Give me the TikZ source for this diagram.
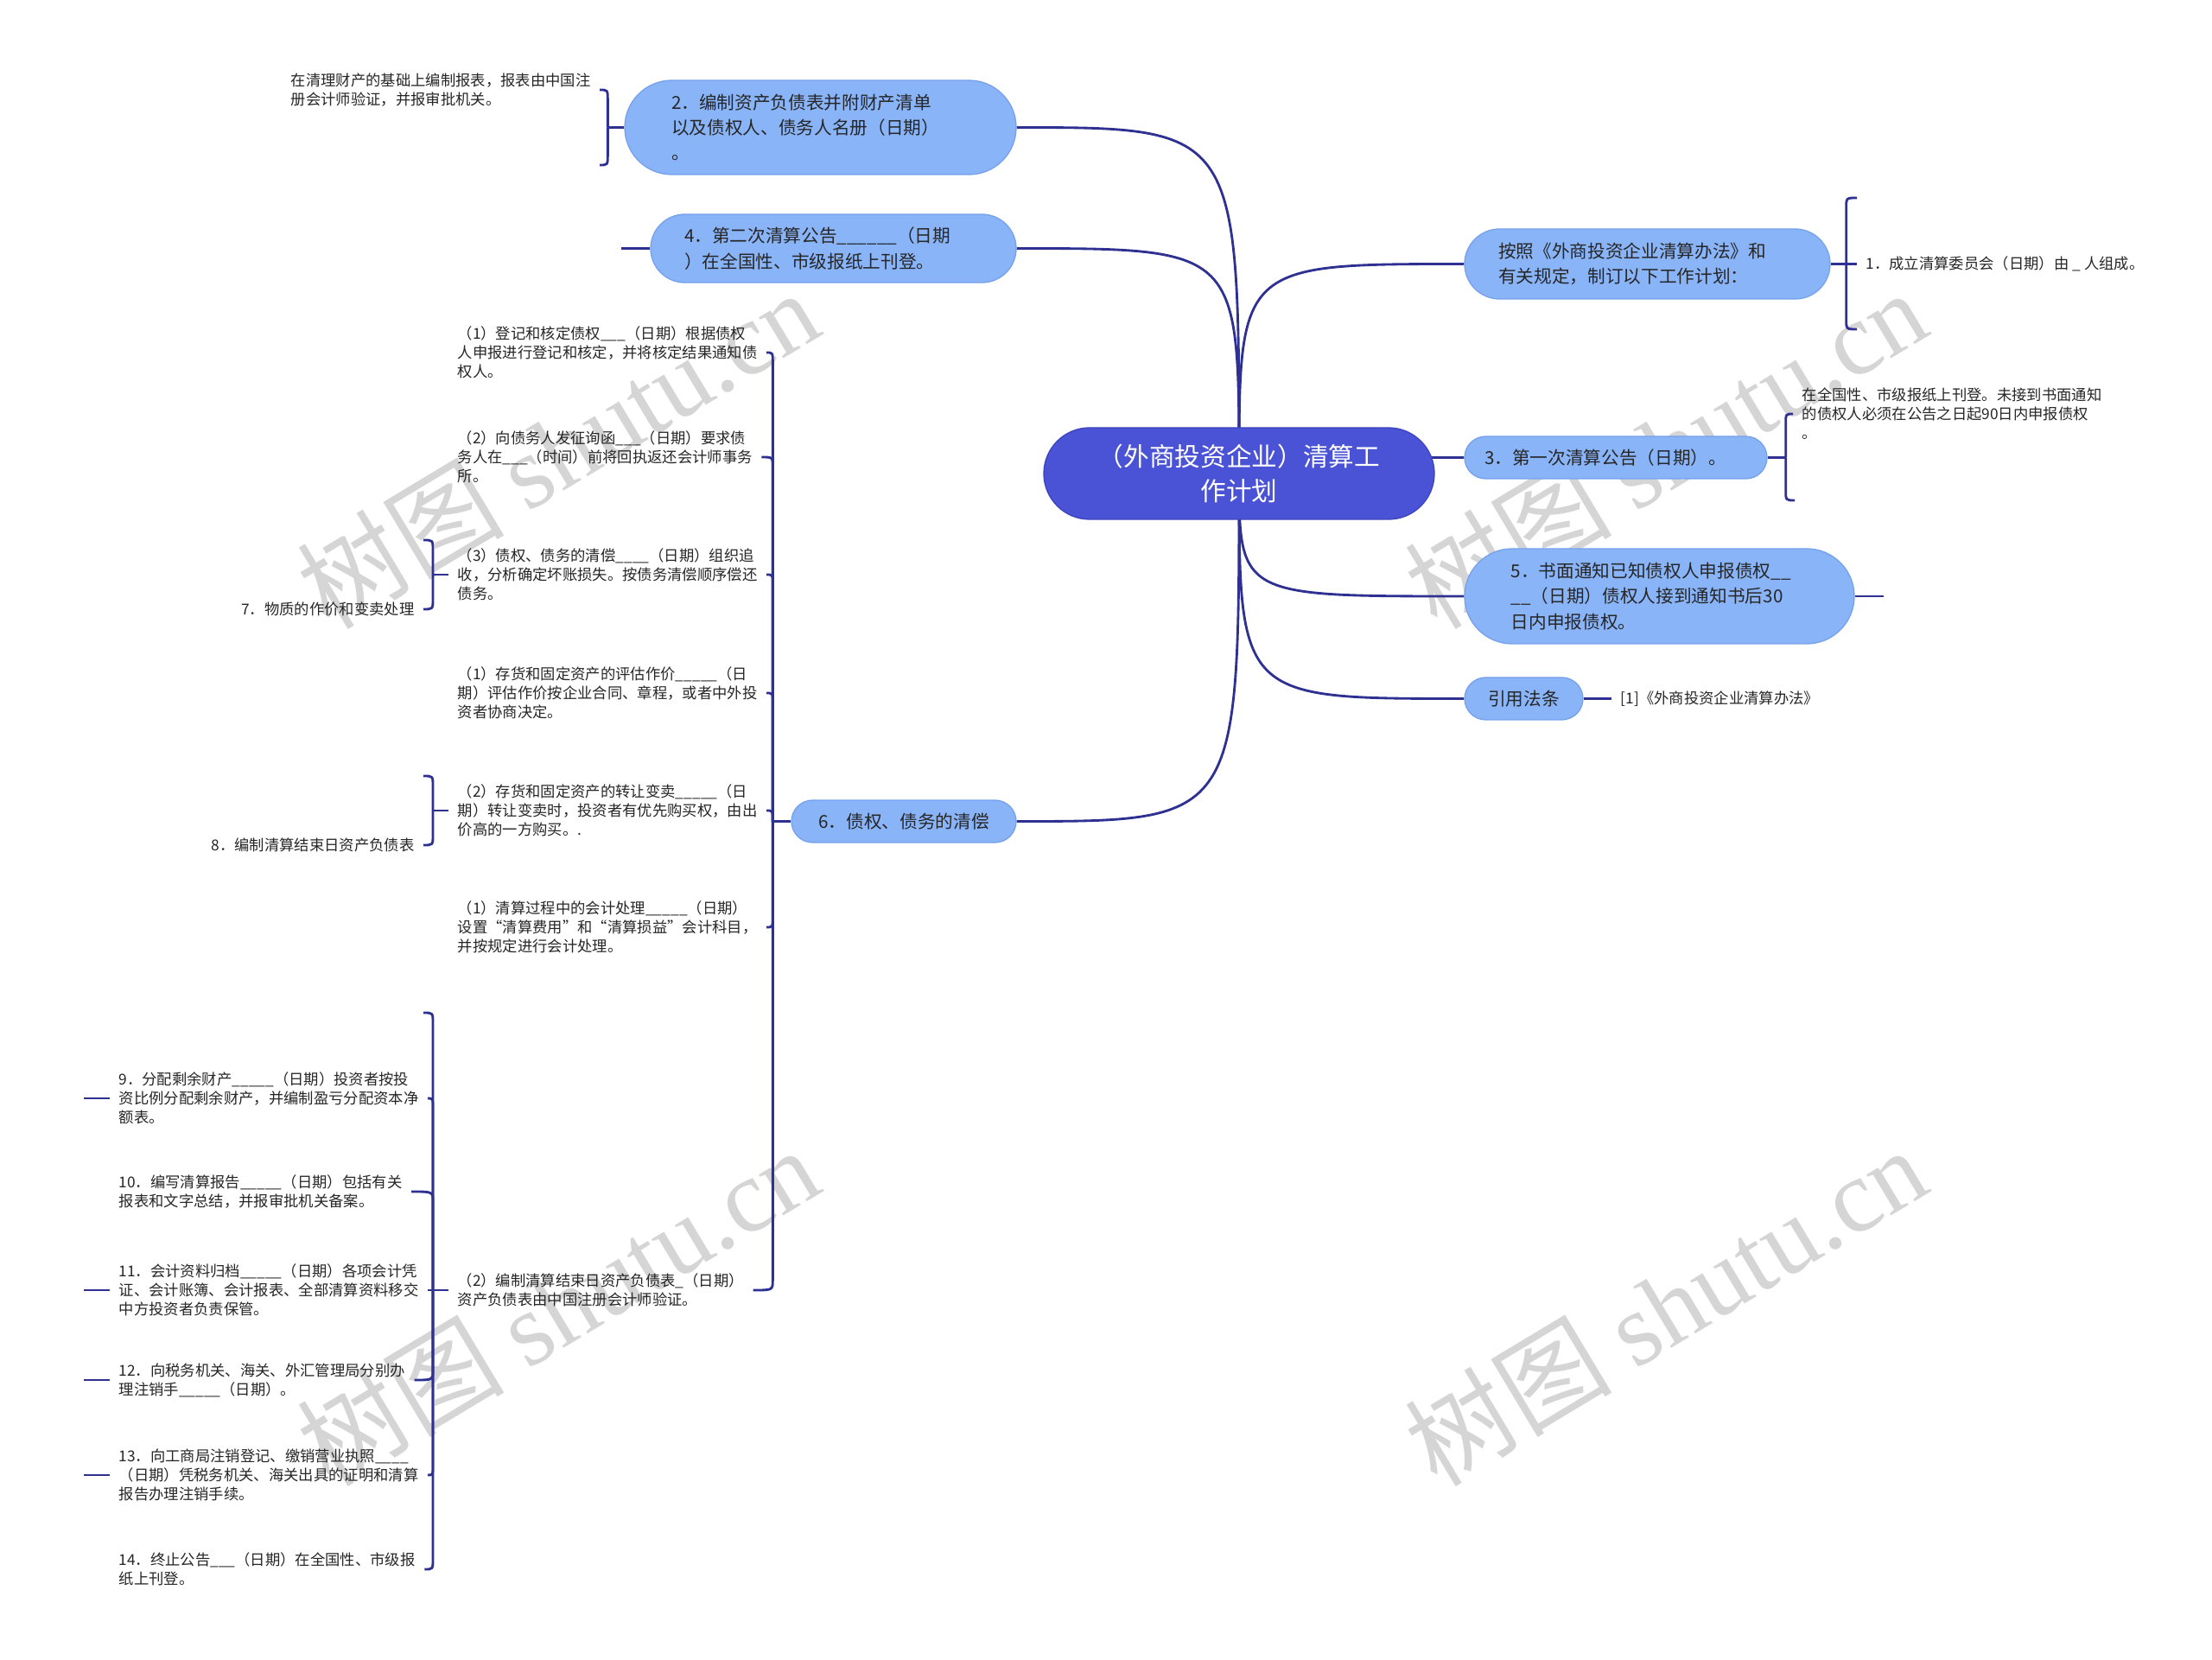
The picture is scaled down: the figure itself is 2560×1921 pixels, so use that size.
\documentclass[tikz,border=0pt]{standalone}
\usepackage{fontspec}
\setmainfont{Noto Sans CJK SC}
\newfontfamily\wmfont{Liberation Serif}
\usetikzlibrary{calc}
\definecolor{rootfill}{HTML}{4A52D6}
\definecolor{rootedge}{HTML}{3D45BE}
\definecolor{topicfill}{HTML}{8AB4F8}
\definecolor{topicedge}{HTML}{76A1EC}
\definecolor{linkblue}{HTML}{2E3192}
\definecolor{wmgray}{HTML}{D5D5D5}
\newcommand{\rootfont}{\fontsize{8.9pt}{11.8pt}\selectfont}
\newcommand{\topicfont}{\fontsize{6.2pt}{8.8pt}\selectfont}
\newcommand{\leaffont}{\fontsize{5.2pt}{6.6pt}\selectfont}
\newcommand{\wmsize}{\fontsize{36pt}{36pt}\selectfont}
\pgfdeclarelayer{background}
\pgfsetlayers{background,main}

\begin{document}
\begin{tikzpicture}[x=0.3pt,y=-0.3pt,
  link/.style={draw=linkblue,line width=0.85pt},
  pill/.style 2 args={rectangle,minimum width=#1,minimum height=#2,rounded corners=0.5*#2,inner sep=0pt,align=left},
  rootnode/.style={fill=rootfill,draw=rootedge,line width=0.4pt,text=white,font=\rootfont,align=center},
  topic/.style={fill=topicfill,draw=topicedge,line width=0.4pt,text=black!85,font=\topicfont},
  leaf/.style={font=\leaffont,text=black!85,align=left,inner xsep=3pt,inner ysep=0pt},
  wmark/.style={text=wmgray,font=\wmsize,rotate=31}]
  \useasboundingbox (0,0) rectangle (2560,1921);

  \node[pill={135.6pt}{31.8pt},rootnode] (root) at (1434,548) {（外商投资企业）清算工\\作计划};

  \node[pill={135.9pt}{32.7pt},topic,text width=103.5pt] (n2) at (949.5,147.5) {2．编制资产负债表并附财产清单\\以及债权人、债务人名册（日期）\\。};
  \node[pill={126.9pt}{23.7pt},topic,text width=103.5pt] (n4) at (964.5,287.5) {4．第二次清算公告\_\_\_\_\_\_（日期\\）在全国性、市级报纸上刊登。};
  \node[pill={78pt}{14.7pt},topic] (n6) at (1046,950.5) {6．债权、债务的清偿};
  \node[pill={126.9pt}{24.3pt},topic,text width=103.5pt] (n1) at (1906.5,305.5) {按照《外商投资企业清算办法》和\\有关规定，制订以下工作计划：};
  \node[pill={105pt}{14.7pt},topic,text width=91.2pt] (n3) at (1870,529.5) {3．第一次清算公告（日期）。};
  \node[pill={135.3pt}{33pt},topic,text width=103pt] (n5) at (1920.5,690) {5．书面通知已知债权人申报债权\_\_\\\_\_（日期）债权人接到通知书后30\\日内申报债权。};
  \node[pill={41.1pt}{14.7pt},topic] (nref) at (1763.5,808.5) {引用法条};

  \node[leaf,anchor=east] (t2) at (694,104) {在清理财产的基础上编制报表，报表由中国注\\册会计师验证，并报审批机关。};
  \coordinate (e2) at (694,191);
  \node[leaf,anchor=west] (l1) at (2149,305.5) {1．成立清算委员会（日期）由 \_ 人组成。};
  \coordinate (e1a) at (2149,229);
  \coordinate (e1b) at (2149,381);
  \node[leaf,anchor=west] (l3) at (2075,479) {在全国性、市级报纸上刊登。未接到书面通知\\的债权人必须在公告之日起90日内申报债权\\。};
  \coordinate (e3) at (2077,579);
  \node[leaf,anchor=west] (lref) at (1865,808.5) {[1]《外商投资企业清算办法》};

  \node[leaf,anchor=west] (c1) at (519,408) {（1）登记和核定债权\_\_\_（日期）根据债权\\人申报进行登记和核定，并将核定结果通知债\\权人。};
  \node[leaf,anchor=west] (c2) at (519,529) {（2）向债务人发征询函\_\_\_（日期）要求债\\务人在\_\_\_（时间）前将回执返还会计师事务\\所。};
  \node[leaf,anchor=west] (c3) at (519,665) {（3）债权、债务的清偿\_\_\_\_（日期）组织追\\收，分析确定坏账损失。按债务清偿顺序偿还\\债务。};
  \node[leaf,anchor=west] (c4) at (519,802) {（1）存货和固定资产的评估作价\_\_\_\_\_（日\\期）评估作价按企业合同、章程，或者中外投\\资者协商决定。};
  \node[leaf,anchor=west] (c5) at (519,938) {（2）存货和固定资产的转让变卖\_\_\_\_\_（日\\期）转让变卖时，投资者有优先购买权，由出\\价高的一方购买。.};
  \node[leaf,anchor=west] (c6) at (519,1073) {（1）清算过程中的会计处理\_\_\_\_\_（日期）\\设置“清算费用”和“清算损益”会计科目，\\并按规定进行会计处理。};
  \node[leaf,anchor=west] (c7) at (519,1493) {（2）编制清算结束日资产负债表\_（日期）\\资产负债表由中国注册会计师验证。};

  \node[leaf,anchor=east] (l7) at (490,705) {7．物质的作价和变卖处理};
  \coordinate (e7) at (490,625);
  \node[leaf,anchor=east] (l8) at (490,978) {8．编制清算结束日资产负债表};
  \coordinate (e8) at (490,898);

  \coordinate (e9) at (490,1172);
  \node[leaf,anchor=west] (l9) at (127,1271) {9．分配剩余财产\_\_\_\_\_（日期）投资者按投\\资比例分配剩余财产，并编制盈亏分配资本净\\额表。};
  \node[leaf,anchor=west] (l10) at (127,1379) {10．编写清算报告\_\_\_\_\_（日期）包括有关\\报表和文字总结，并报审批机关备案。};
  \node[leaf,anchor=west] (l11) at (127,1493) {11．会计资料归档\_\_\_\_\_（日期）各项会计凭\\证、会计账簿、会计报表、全部清算资料移交\\中方投资者负责保管。};
  \node[leaf,anchor=west] (l12) at (127,1597) {12．向税务机关、海关、外汇管理局分别办\\理注销手\_\_\_\_\_（日期）。};
  \node[leaf,anchor=west] (l13) at (127,1707) {13．向工商局注销登记、缴销营业执照\_\_\_\_\\（日期）凭税务机关、海关出具的证明和清算\\报告办理注销手续。};
  \node[leaf,anchor=west] (l14) at (127,1816) {14．终止公告\_\_\_（日期）在全国性、市级报\\纸上刊登。};

  \begin{pgfonlayer}{background}
    \fill[white] (0,0) rectangle (2560,1921);
    \foreach \p [count=\i] in {(645,519),(1927,519),(645,1511),(1927,1511)}
      \node[wmark] (wm\i) at \p {树图 {\wmfont shutu.cn}};

    \foreach \n in {n2,n4,n6}
      \draw[link] (root.center) .. controls (root.center |- \n.east) .. (\n.east);
    \foreach \n in {n1,n3,n5,nref}
      \draw[link] (root.center) .. controls (root.center |- \n.west) .. (\n.west);

    \draw[link] (n2.west) -- ++(-19,0) coordinate (s2);
    \foreach \ch in {t2.east,e2}
      \draw[link] (s2) -- ($(s2 |- \ch)!3.5pt!(s2)$) .. controls (s2 |- \ch) .. (\ch);
    \draw[link] (n4.west) -- ++(-33,0) coordinate (f4);

    \draw[link] (n1.east) -- (l1.west);
    \path (n1.east) ++(18,0) coordinate (s1);
    \foreach \ch in {e1a,e1b}
      \draw[link] (s1) -- ($(s1 |- \ch)!3.5pt!(s1)$) .. controls (s1 |- \ch) .. (\ch);
    \draw[link] (n3.east) -- ++(21,0) coordinate (s3);
    \foreach \ch in {l3.west,e3}
      \draw[link] (s3) -- ($(s3 |- \ch)!3.5pt!(s3)$) .. controls (s3 |- \ch) .. (\ch);
    \draw[link] (n5.east) -- ++(33,0) coordinate (f5);
    \draw[link] (nref.east) -- (lref.west);

    \draw[link] (n6.west) -- ++(-21,0) coordinate (s6);
    \foreach \ch in {c1.east,c2.east,c3.east,c4.east,c5.east,c6.east,c7.east}
      \draw[link] (s6) -- ($(s6 |- \ch)!3.5pt!(s6)$) .. controls (s6 |- \ch) .. (\ch);

    \draw[link] (c3.west) -- ++(-18,0) coordinate (s7);
    \foreach \ch in {e7,l7.east}
      \draw[link] (s7) -- ($(s7 |- \ch)!3.5pt!(s7)$) .. controls (s7 |- \ch) .. (\ch);
    \draw[link] (c5.west) -- ++(-18,0) coordinate (s8);
    \foreach \ch in {e8,l8.east}
      \draw[link] (s8) -- ($(s8 |- \ch)!3.5pt!(s8)$) .. controls (s8 |- \ch) .. (\ch);

    \draw[link] (c7.west) -- (l11.east);
    \path (c7.west) ++(-18,0) coordinate (s9);
    \foreach \ch in {e9,l9.east,l10.east,l12.east,l13.east,l14.east}
      \draw[link] (s9) -- ($(s9 |- \ch)!3.5pt!(s9)$) .. controls (s9 |- \ch) .. (\ch);
    \foreach \l in {l9,l11,l12,l13}
      \draw[link] (\l.west) -- ++(-30,0);
  \end{pgfonlayer}
\end{tikzpicture}
\end{document}
